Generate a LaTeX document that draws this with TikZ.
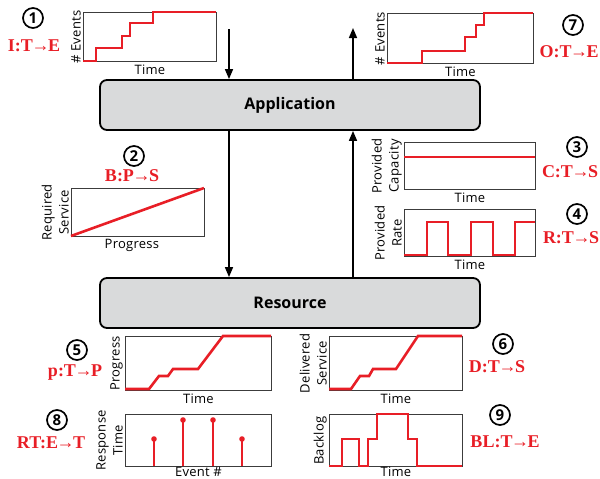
\documentclass[tikz,border=0pt]{standalone}
\usepackage{fontspec}
\setmainfont{Open Sans}
\newfontfamily\axfont{Open Sans}[LetterSpace=2]
\newfontfamily\labfont{Liberation Serif}
\usetikzlibrary{arrows.meta}
\definecolor{sigred}{RGB}{232,30,38}
\definecolor{boxgray}{RGB}{217,218,219}
\definecolor{framegray}{RGB}{60,60,60}
\newcommand{\ar}{\kern-1.5pt→\kern-1.5pt}
\tikzset{
  frame/.style={draw=framegray, line width=0.9pt, anchor=north west, inner sep=0pt},
  sig/.style={draw=sigred, line width=2.6pt, line join=miter},
  ylab/.style={rotate=90, anchor=south, inner sep=2pt, align=center,
    font=\fontsize{13}{17}\axfont},
  xlab/.style={anchor=north, inner sep=2.5pt, font=\fontsize{13}{15}\axfont},
  layer/.style={draw=black, fill=boxgray, line width=1.8pt, rounded corners=7pt,
    minimum width=380pt, minimum height=50pt, font=\fontsize{16}{19}\selectfont\bfseries},
  flow/.style={line width=1.6pt, -{Triangle[length=10pt,width=8pt]}},
  numc/.style={circle, draw=black, line width=1.7pt, minimum size=20pt, inner sep=0pt,
    font=\fontsize{15}{15}\selectfont\bfseries},
  rlab/.style={text=sigred, inner sep=0pt, font=\fontsize{18}{20}\labfont\bfseries},
  stemdot/.style={fill=sigred, draw=none}
}
\begin{document}
\begin{tikzpicture}[x=1pt, y=-1pt]
\useasboundingbox (0,0) rectangle (600,479);

% layers
\node[layer] (app) at (290,105) {Application};
\node[layer] (res) at (290,303) {Resource};

% flows between layers
\coordinate (inTop) at (229,29);
\coordinate (outTop) at (353,28);
\draw[flow] (inTop) -- (inTop |- app.north);
\draw[flow] (app.south -| inTop) -- (res.north -| inTop);
\draw[flow] (res.north -| outTop) -- (app.south -| outTop);
\draw[flow] (app.north -| outTop) -- (outTop);

% 1: input events over time
\node[frame, minimum width=133pt, minimum height=49pt] (c1) at (83,12) {};
\draw[sig] (83,61) -- (96,61) -- (96,48) -- (122,48) -- (122,36) -- (130,36) -- (130,23)
  -- (153,23) -- (153,12) -- (216,12);
\node[ylab] (y1) at (c1.west) {\# Events};
\node[xlab] (x1) at (c1.south) {Time};
\node[numc] (n1) at (33,18) {1};
\node[rlab] (l1) at (34,46) {I:T\ar E};

% 7: output events over time
\node[frame, minimum width=146pt, minimum height=50pt] (c7) at (387,13) {};
\draw[sig] (387,63) -- (422,63) -- (422,51) -- (465,51) -- (465,37) -- (476,37) -- (476,25)
  -- (484,25) -- (484,13) -- (533,13);
\node[ylab] (y7) at (c7.west) {\# Events};
\node[xlab] (x7) at (c7.south) {Time};
\node[numc] (n7) at (573,25) {7};
\node[rlab] (l7) at (569,52) {O:T\ar E};

% 2: required service vs progress
\node[frame, minimum width=133pt, minimum height=48pt] (c2) at (71,188) {};
\draw[sig] (71,236) -- (204,188);
\node[ylab] (y2) at (c2.west) {Required\\Service};
\node[xlab] (x2) at ([xshift=-6pt]c2.south) {Progress};
\node[numc] (n2) at (134,156) {2};
\node[rlab] (l2) at (132,176) {B:P\ar S};

% 3: provided capacity
\node[frame, minimum width=131pt, minimum height=47pt] (c3) at (404,142) {};
\draw[sig] (404,157) -- (535,157);
\node[ylab] (y3) at (c3.west) {Provided\\Capacity};
\node[xlab] (x3) at (c3.south) {Time};
\node[numc] (n3) at (577,147) {3};
\node[rlab] (l3) at (570,172) {C:T\ar S};

% 4: provided rate
\node[frame, minimum width=131pt, minimum height=47pt] (c4) at (404,209) {};
\draw[sig] (404,255) -- (427,255) -- (427,222) -- (448,222) -- (448,255) -- (471,255)
  -- (471,222) -- (493,222) -- (493,255) -- (515,255) -- (515,222) -- (535,222);
\node[ylab] (y4) at (c4.west) {Provided\\Rate};
\node[xlab] (x4) at (c4.south) {Time};
\node[numc] (n4) at (577,214) {4};
\node[rlab] (l4) at (571,238) {R:T\ar S};

% 5: progress over time
\node[frame, minimum width=146pt, minimum height=54pt] (c5) at (125,336) {};
\draw[sig] (125,389) -- (149,389) -- (159,376) -- (168,376) -- (173,369) -- (198,369)
  -- (223,336) -- (271,336);
\node[ylab] (y5) at (c5.west) {Progress};
\node[xlab] (x5) at (c5.south) {Time};
\node[numc] (n5) at (77,350) {5};
\node[rlab] (l5) at (75,373) {p:T\ar P};

% 6: delivered service over time
\node[frame, minimum width=133pt, minimum height=54pt] (c6) at (329,336) {};
\draw[sig] (329,389) -- (351,389) -- (360,376) -- (369,376) -- (373,369) -- (396,369)
  -- (418,336) -- (462,336);
\node[ylab] (y6) at (c6.west) {Delivered\\Service};
\node[xlab] (x6) at (c6.south) {Time};
\node[numc] (n6) at (503,344) {6};
\node[rlab] (l6) at (497,367) {D:T\ar S};

% 8: response time per event
\node[frame, minimum width=146pt, minimum height=52pt] (c8) at (125,414) {};
\foreach \sx/\sy in {154/439, 183/420, 213/420, 242/439}{
  \draw[sig, line width=2.4pt] (\sx,466) -- (\sx,\sy);
  \fill[stemdot] (\sx,\sy) circle (2.8pt);
}
\node[ylab] (y8) at (c8.west) {Response\\Time};
\node[xlab, inner sep=0.3pt] (x8) at (c8.south) {Event \#};
\node[numc] (n8) at (57,420) {8};
\node[rlab] (l8) at (51,443) {RT:E\ar T};

% 9: backlog over time
\node[frame, minimum width=133pt, minimum height=52pt] (c9) at (329,414) {};
\draw[sig] (329,466) -- (342,466) -- (342,439) -- (359,439) -- (359,466) -- (368,466)
  -- (368,439) -- (377,439) -- (377,414) -- (408,414) -- (408,439) -- (417,439)
  -- (417,466) -- (462,466);
\node[ylab] (y9) at (c9.west) {Backlog};
\node[xlab, inner sep=0.3pt] (x9) at (c9.south) {Time};
\node[numc] (n9) at (500,415) {9};
\node[rlab] (l9) at (505,442) {BL:T\ar E};
\end{tikzpicture}
\end{document}
